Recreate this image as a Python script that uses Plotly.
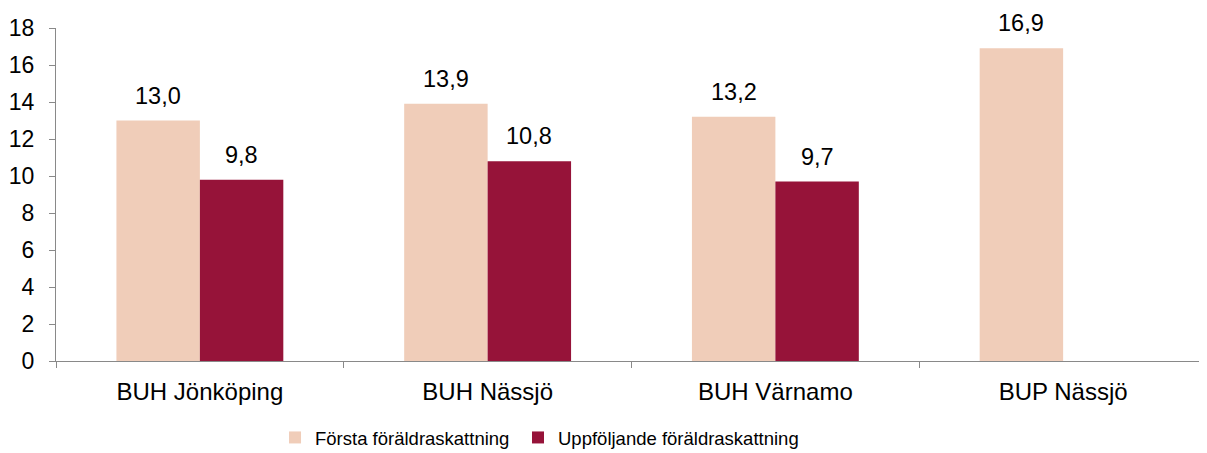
import plotly.graph_objects as go

categories = ["BUH Jönköping", "BUH Nässjö", "BUH Värnamo", "BUP Nässjö"]
forsta = [13.0, 13.9, 13.2, 16.9]
uppfoljande = [9.8, 10.8, 9.7, None]
series_names = ["Första föräldraskattning", "Uppföljande föräldraskattning"]
y_ticks = list(range(0, 19, 2))

colors = ["#F0CDB9", "#961339"]
FONT = "Liberation Sans, Arial, sans-serif"

# page body has an 8px margin, so the figure is sized to end at the window edge
W, H = 1199, 445
margin = dict(l=48, r=0, t=20, b=92, autoexpand=False)
bargap = 0.42

fig = go.Figure()
legend_ids = ["legend", "legend2"]
for name, vals, col, lg in zip(series_names, [forsta, uppfoljande], colors, legend_ids):
    fig.add_trace(go.Bar(x=categories, y=vals, name=name, legend=lg,
                         marker=dict(color=col, line=dict(width=0))))

# data labels above bars
plot_w = W - margin["l"] - margin["r"]
bar_w = plot_w / len(categories) * (1 - bargap) / 2
annotations = []
for si, vals in enumerate([forsta, uppfoljande]):
    shift = (-0.5 if si == 0 else 0.5) * bar_w
    for c, v in zip(categories, vals):
        if v is None:
            continue
        annotations.append(dict(
            x=c, y=v, xref="x", yref="y", text=f"{v:.1f}".replace(".", ","),
            showarrow=False, xshift=shift, yanchor="bottom", yshift=10,
            font=dict(family=FONT, size=23.5, color="#000000"),
        ))

legend_style = dict(orientation="h", xanchor="left", y=-0.231, yanchor="middle",
                    bgcolor="rgba(0,0,0,0)",
                    font=dict(family=FONT, size=18.5, color="#000000"))

fig.update_layout(
    width=W, height=H,
    margin=margin,
    barmode="group", bargap=bargap, bargroupgap=0,
    plot_bgcolor="white", paper_bgcolor="white",
    font=dict(family=FONT, size=22, color="#000000"),
    showlegend=True,
    legend=dict(x=0.1903, **legend_style),
    legend2=dict(x=0.4014, **legend_style),
    annotations=annotations,
    xaxis=dict(showline=True, linecolor="#898989", linewidth=1, ticks="outside",
               tickson="boundaries", ticklen=6, tickcolor="#898989", showgrid=False,
               automargin=False, ticklabelstandoff=9, tickfont=dict(size=24)),
    yaxis=dict(range=[0, 18], tickvals=y_ticks, showline=True, linecolor="#898989",
               linewidth=1, ticks="outside", ticklen=6, tickcolor="#898989",
               automargin=False, showgrid=False, zeroline=False,
               ticklabelstandoff=10, tickfont=dict(size=23)),
)

fig.write_html("out.html")
